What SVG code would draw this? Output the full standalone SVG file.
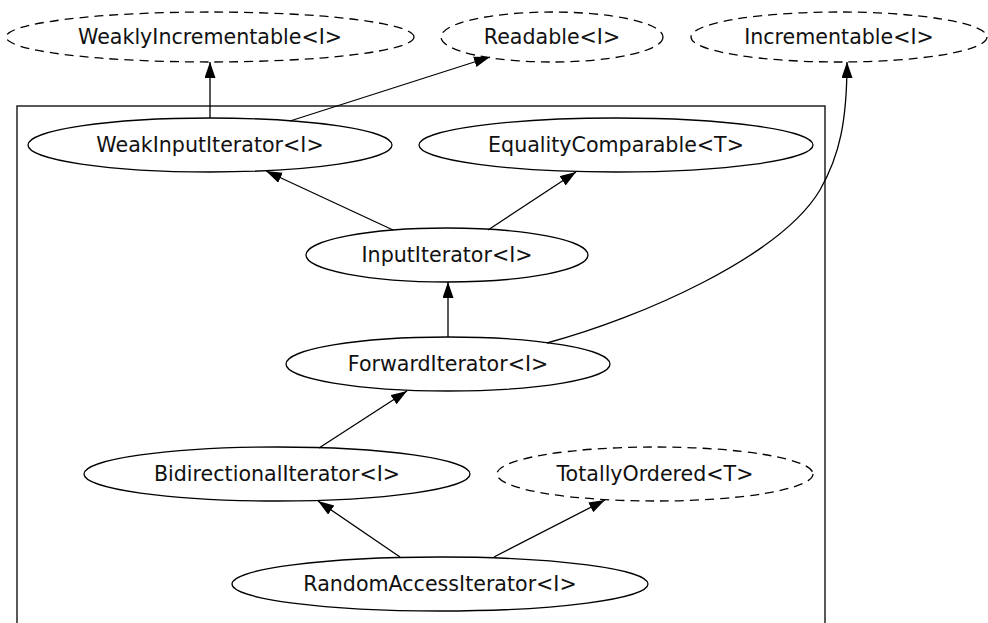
<svg xmlns="http://www.w3.org/2000/svg" width="988" height="623" viewBox="0 0 988 623">
<style>
.n ellipse{fill:none;stroke:#000;stroke-width:1.3}
.d ellipse{stroke-dasharray:9,6}
text{font-family:"DejaVu Sans","Liberation Sans",sans-serif;font-size:20.6px;fill:#111;text-anchor:middle}
.e path{fill:none;stroke:#000;stroke-width:1.3;marker-end:url(#ah)}
</style>
<defs>
<marker id="ah" markerUnits="userSpaceOnUse" markerWidth="17" markerHeight="12" refX="16" refY="5.5" orient="auto" viewBox="0 0 17 12">
<path d="M0,0 L16,5.5 L0,11 z" fill="#000"/>
</marker>
</defs>
<rect x="17" y="106" width="808" height="530" fill="none" stroke="#222" stroke-width="1.5"/>
<g id="WeaklyIncrementable" class="n d"><ellipse cx="210" cy="37" rx="204" ry="25"/><text x="210" y="44">WeaklyIncrementable&lt;I&gt;</text></g>
<g id="Readable" class="n d"><ellipse cx="552" cy="37" rx="111" ry="25"/><text x="552" y="44">Readable&lt;I&gt;</text></g>
<g id="Incrementable" class="n d"><ellipse cx="839" cy="37" rx="148" ry="25"/><text x="839" y="44">Incrementable&lt;I&gt;</text></g>
<g id="WeakInputIterator" class="n"><ellipse cx="210" cy="145" rx="182" ry="27"/><text x="210" y="152">WeakInputIterator&lt;I&gt;</text></g>
<g id="EqualityComparable" class="n"><ellipse cx="616" cy="145" rx="197" ry="27"/><text x="616" y="152">EqualityComparable&lt;T&gt;</text></g>
<g id="InputIterator" class="n"><ellipse cx="447" cy="255" rx="141" ry="27"/><text x="447" y="262">InputIterator&lt;I&gt;</text></g>
<g id="ForwardIterator" class="n"><ellipse cx="448" cy="364" rx="162" ry="27"/><text x="448" y="371">ForwardIterator&lt;I&gt;</text></g>
<g id="BidirectionalIterator" class="n"><ellipse cx="277" cy="474" rx="193" ry="27"/><text x="277" y="481">BidirectionalIterator&lt;I&gt;</text></g>
<g id="TotallyOrdered" class="n d"><ellipse cx="655" cy="474" rx="158" ry="27"/><text x="655" y="481">TotallyOrdered&lt;T&gt;</text></g>
<g id="RandomAccessIterator" class="n"><ellipse cx="440" cy="584" rx="208" ry="27"/><text x="440" y="591">RandomAccessIterator&lt;I&gt;</text></g>
<g id="edges" class="e">
<path d="M210,118 L210,62"/>
<path d="M290,121 L490,57"/>
<path d="M393,230 L266,171"/>
<path d="M488,230 L576,172"/>
<path d="M448,337 L448,282"/>
<path d="M547,343 C640,318 780,257 820,190 C840,155 847,120 847,62"/>
<path d="M319,448 L407,391"/>
<path d="M400,557 L318,501"/>
<path d="M494,557 L605,500"/>
</g>
</svg>
